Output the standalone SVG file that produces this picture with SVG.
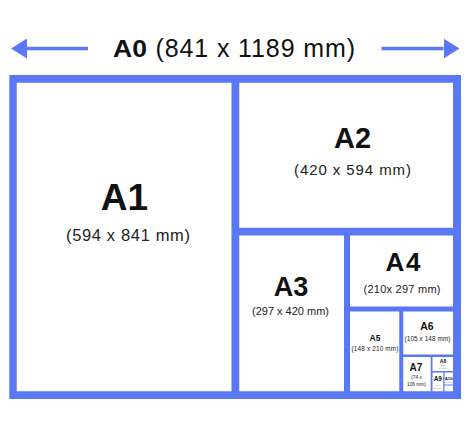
<svg xmlns="http://www.w3.org/2000/svg" width="473" height="427" viewBox="0 0 473 427">
  <style>
    .cell { fill: #ffffff; }
    .frame { fill: #5A77F6; }
    .lbl { font-family: "Liberation Sans", Arial, sans-serif; font-weight: bold; fill: #111111; text-anchor: middle; }
    .dim { font-family: "Liberation Sans", Arial, sans-serif; fill: #222222; text-anchor: middle; }
    .tiny { font-family: "Liberation Sans", Arial, sans-serif; fill: #8a8a8a; text-anchor: middle; }
    .arrow { stroke: #5A77F6; stroke-width: 3.3; fill: none; }
  </style>
  <defs>
    <marker id="head" viewBox="0 0 16 20" refX="0" refY="10" markerWidth="16" markerHeight="20" markerUnits="userSpaceOnUse" orient="auto">
      <path d="M0,0 L16,10 L0,20 z" fill="#5A77F6"/>
    </marker>
  </defs>
  <rect width="473" height="427" fill="#ffffff"/>

  <g id="connectors">
    <line class="arrow" x1="88" y1="48.5" x2="27" y2="48.5" marker-end="url(#head)"/>
    <line class="arrow" x1="381.5" y1="48.5" x2="443.5" y2="48.5" marker-end="url(#head)"/>
  </g>

  <g id="A0">
    <rect class="frame" x="9.3" y="75" width="451.7" height="324"/>
    <text class="lbl" x="113" y="57" font-size="24.5" style="text-anchor:start" textLength="34" lengthAdjust="spacingAndGlyphs">A0</text>
    <text class="dim" x="155.5" y="57" font-size="25" style="text-anchor:start;fill:#111111" textLength="199.5">(841 x 1189 mm)</text>
  </g>

  <g id="A1">
    <rect class="cell" x="16.75" y="82.75" width="214.75" height="308.5"/>
    <text class="lbl" x="124.5" y="210" font-size="37">A1</text>
    <text class="dim" x="128" y="241" font-size="16.5" textLength="124">(594 x 841 mm)</text>
  </g>

  <g id="A2">
    <rect class="cell" x="239.25" y="82.75" width="213.75" height="145"/>
    <text class="lbl" x="352.5" y="148" font-size="29">A2</text>
    <text class="dim" x="352.5" y="175" font-size="15" textLength="117">(420 x 594 mm)</text>
  </g>

  <g id="A3">
    <rect class="cell" x="239.25" y="235.5" width="104.75" height="155.75"/>
    <text class="lbl" x="291" y="296" font-size="27">A3</text>
    <text class="dim" x="290.5" y="315" font-size="11" textLength="77">(297 x 420 mm)</text>
  </g>

  <g id="A4">
    <rect class="cell" x="350" y="235.5" width="103" height="71"/>
    <text class="lbl" x="403" y="270.7" font-size="26" textLength="35">A4</text>
    <text class="dim" x="402" y="293" font-size="11" textLength="77">(210x 297 mm)</text>
  </g>

  <g id="A5">
    <rect class="cell" x="350" y="311.5" width="49.25" height="79.75"/>
    <text class="lbl" x="375" y="341" font-size="8.5">A5</text>
    <text class="dim" x="375" y="350.5" font-size="6.4" textLength="47">(148 x 210 mm)</text>
  </g>

  <g id="A6">
    <rect class="cell" x="403.25" y="311.5" width="49.75" height="43"/>
    <text class="lbl" x="427" y="329.5" font-size="10.5">A6</text>
    <text class="dim" x="427.5" y="340.5" font-size="6.4" textLength="46">(105 x 148 mm)</text>
  </g>

  <g id="A7">
    <rect class="cell" x="403.25" y="357" width="27.5" height="34.25"/>
    <text class="lbl" x="416" y="370.7" font-size="10">A7</text>
    <text class="dim" x="416.5" y="378.5" font-size="4.8">(74 x</text>
    <text class="dim" x="416.5" y="385.5" font-size="4.8">106 mm)</text>
  </g>

  <g id="A8">
    <rect class="cell" x="432.5" y="357" width="20.5" height="14"/>
    <text class="lbl" x="443" y="362.8" font-size="5">A8</text>
    <text class="tiny" x="443" y="366" font-size="2.5">(52 x</text>
    <text class="tiny" x="443" y="369" font-size="2.5">74 mm)</text>
  </g>

  <g id="A9">
    <rect class="cell" x="432.5" y="372.5" width="10.75" height="18.75"/>
    <text class="lbl" x="437.8" y="381.3" font-size="6.5">A9</text>
    <text class="tiny" x="437.8" y="385.5" font-size="2.5">(37 x</text>
    <text class="tiny" x="437.8" y="388.5" font-size="2.5">52 mm)</text>
  </g>

  <g id="A10">
    <rect class="cell" x="444.5" y="372.5" width="8.5" height="12"/>
    <text class="lbl" x="448.7" y="380.3" font-size="4.3">A10</text>
    <text class="tiny" x="448.7" y="383.3" font-size="1.8">(26 x 37 mm)</text>
  </g>

  <g id="A11">
    <rect class="cell" x="444.5" y="385.5" width="8.5" height="5.75"/>
  </g>
</svg>
